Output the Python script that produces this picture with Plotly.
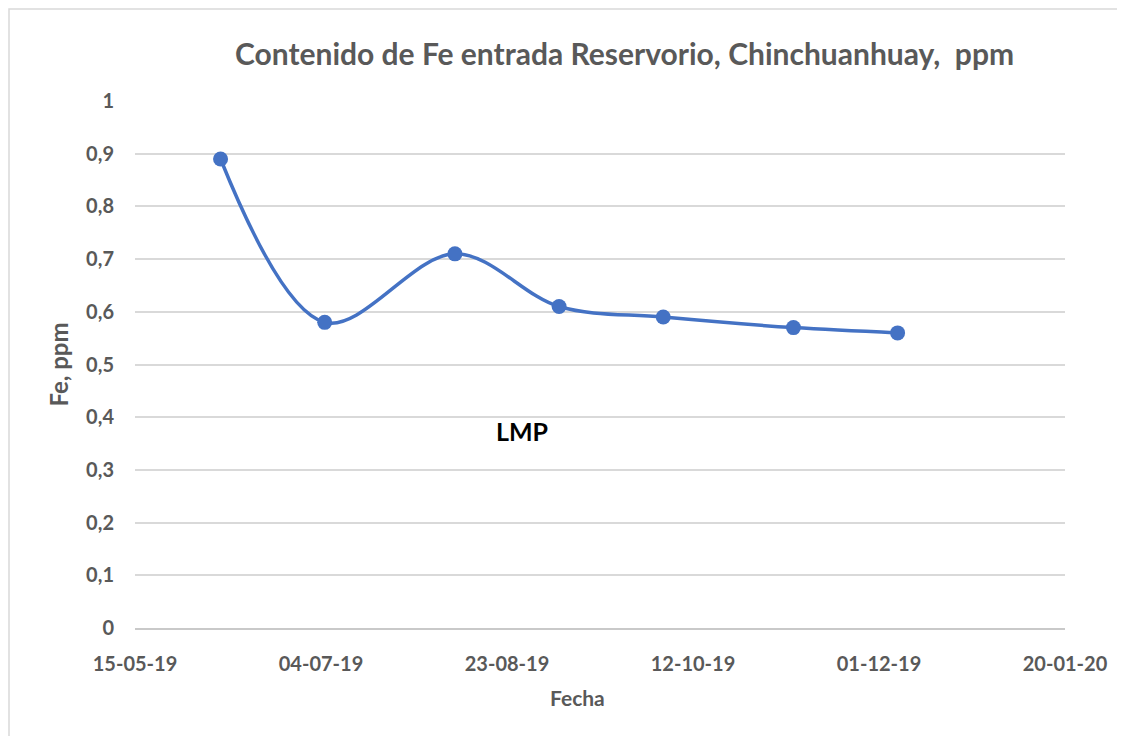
import plotly.graph_objects as go

# Fe content at the reservoir inlet (ppm)
fechas = ['2019-06-07', '2019-07-05', '2019-08-09', '2019-09-06',
          '2019-10-04', '2019-11-08', '2019-12-06']
fe_ppm = [0.89, 0.58, 0.71, 0.61, 0.59, 0.57, 0.56]

x_range = ['2019-05-15', '2020-01-20']
y_ticks = [0, 0.1, 0.2, 0.3, 0.4, 0.5, 0.6, 0.7, 0.8, 0.9, 1]

azul = '#4472c4'
gris = '#595959'
fuente = 'Lato'

fig = go.Figure()

fig.add_trace(go.Scatter(
    x=fechas,
    y=fe_ppm,
    mode='lines+markers',
    line=dict(color=azul, width=3.5, shape='spline', smoothing=1),
    marker=dict(size=15, color=azul),
    showlegend=False,
))

fig.update_layout(
    width=1125,
    height=736,
    paper_bgcolor='white',
    plot_bgcolor='white',
    separators=',.',
    margin=dict(l=127, r=68, t=93, b=116),
    font=dict(family=fuente, color=gris),
    title=dict(
        text='<b>Contenido de Fe entrada Reservorio, Chinchuanhuay,  ppm</b>',
        x=0.548, xanchor='center', y=0.9375, yanchor='middle',
        font=dict(size=30, color=gris, family=fuente),
    ),
    xaxis=dict(
        type='date',
        range=x_range,
        tick0=x_range[0],
        dtick=50 * 86400000,
        tickformat='%d-%m-%y',
        showgrid=False,
        showline=True,
        linecolor='#c9c9c9',
        linewidth=1.5,
        ticks='',
        ticklabelstandoff=17,
        tickfont=dict(size=20, color=gris, family=fuente, weight='bold'),
    ),
    yaxis=dict(
        range=[0, 1],
        tickvals=y_ticks,
        showgrid=True,
        gridcolor='#d9d9d9',
        gridwidth=1.5,
        zeroline=False,
        showline=False,
        ticks='',
        ticklabelstandoff=20,
        tickfont=dict(size=20, color=gris, family=fuente, weight='bold'),
        title=dict(text='<b>Fe, ppm</b>', font=dict(size=24, color=gris), standoff=10),
    ),
)

# x axis title sits a little left of centre in the original
fig.add_annotation(
    x=0.476, y=-0.1326, xref='paper', yref='paper',
    xanchor='center', yanchor='middle',
    text='<b>Fecha</b>', showarrow=False,
    font=dict(size=21, color=gris, family=fuente),
)

fig.add_annotation(
    x='2019-08-27', y=0.373, xref='x', yref='y',
    text='<b>LMP</b>', showarrow=False,
    font=dict(size=25, color='black', family=fuente),
)

# outer chart border (Excel chart area)
fig.add_shape(
    type='rect', xref='paper', yref='paper',
    x0=-126 / 930, x1=1.1, y0=-0.3, y1=1 + 92 / 527,
    line=dict(color='#d9d9d9', width=1.5), fillcolor='rgba(0,0,0,0)',
    layer='below',
)

fig.write_html('out.html')
